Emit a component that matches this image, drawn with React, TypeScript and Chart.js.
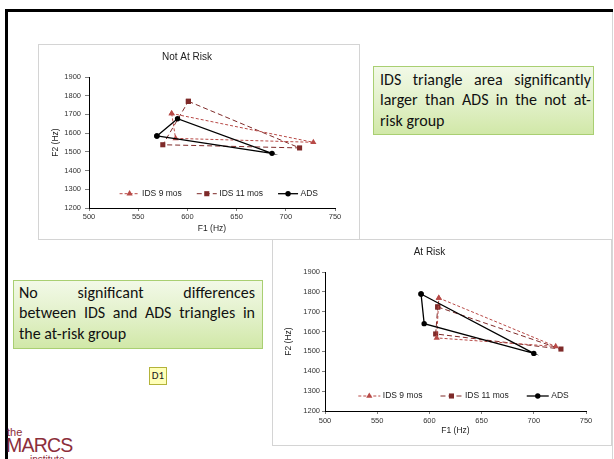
import React, { useEffect, useRef } from 'react';
import { Chart, registerables } from 'chart.js';

Chart.register(...registerables);

// ---------- data ----------
const seriesLabels = ['IDS 9 mos', 'IDS 11 mos', 'ADS'];
const xMin = 500;
const xMax = 750;
const xStep = 50;
const yMin = 1200;
const yMax = 1900;
const yStep = 100;

// Not At Risk (closed triangles: first vertex repeated)
const notAtRiskIds9F1 = [584, 588, 728, 584];
const notAtRiskIds9F2 = [1705, 1572, 1551, 1705];
const notAtRiskIds11F1 = [601, 714, 575, 601];
const notAtRiskIds11F2 = [1770, 1521, 1538, 1770];
const notAtRiskAdsF1 = [569, 590, 686, 569];
const notAtRiskAdsF2 = [1585, 1677, 1492, 1585];

// At Risk
const atRiskIds9F1 = [609, 721, 607, 609];
const atRiskIds9F2 = [1769, 1525, 1568, 1769];
const atRiskIds11F1 = [608, 726, 606, 608];
const atRiskIds11F2 = [1724, 1512, 1588, 1724];
const atRiskAdsF1 = [592, 700, 595, 592];
const atRiskAdsF2 = [1789, 1490, 1640, 1789];

const box1Lines = ['IDS triangle area significantly', 'larger than ADS in the not at-', 'risk group'];
const box2Lines = ['No significant differences', 'between IDS and ADS triangles in', 'the at-risk group'];

// ---------- styling ----------
const FONT = '"Liberation Sans", Arial, sans-serif';
const C9 = '#b84a47';
const C11 = '#7e2a29';
const CADS = '#000000';

function pts(xs: number[], ys: number[]) {
  return xs.map((x, i) => ({ x, y: ys[i] }));
}

function drawMarker(ctx: CanvasRenderingContext2D, style: string, x: number, y: number, r: number, color: string) {
  ctx.fillStyle = color;
  ctx.beginPath();
  if (style === 'triangle') {
    for (let k = 0; k < 3; k++) {
      const a = -Math.PI / 2 + (k * 2 * Math.PI) / 3;
      const px = x + r * Math.cos(a);
      const py = y + r * Math.sin(a);
      if (k === 0) ctx.moveTo(px, py);
      else ctx.lineTo(px, py);
    }
    ctx.closePath();
  } else if (style === 'rect') {
    const s = r * Math.SQRT1_2;
    ctx.rect(x - s, y - s, 2 * s, 2 * s);
  } else {
    ctx.arc(x, y, r, 0, Math.PI * 2);
  }
  ctx.fill();
}

const innerLegend = {
  id: 'innerLegend',
  afterDatasetsDraw(chart: any, _args: any, opts: any) {
    const { ctx, chartArea } = chart;
    const y = chartArea.bottom - opts.fromBottom;
    let x = chartArea.left + opts.start;
    ctx.save();
    ctx.font = `${opts.fontSize}px ${FONT}`;
    ctx.textBaseline = 'middle';
    chart.data.datasets.forEach((ds: any) => {
      const L = opts.lineLen;
      ctx.strokeStyle = ds.borderColor;
      ctx.lineWidth = ds.borderWidth;
      ctx.setLineDash(ds.borderDash || []);
      ctx.beginPath();
      ctx.moveTo(x, y);
      ctx.lineTo(x + L, y);
      ctx.stroke();
      ctx.setLineDash([]);
      drawMarker(ctx, ds.pointStyle, x + L / 2, y, ds.pointRadius, ds.pointBackgroundColor);
      ctx.fillStyle = '#222';
      ctx.fillText(ds.label, x + L + opts.textGap, y);
      x += L + opts.textGap + ctx.measureText(ds.label).width + opts.itemGap;
    });
    ctx.restore();
  },
};

type PanelProps = {
  title: string;
  f1: number[][];
  f2: number[][];
  left: number;
  top: number;
  width: number;
  height: number;
  yAxisWidth: number;
  xAxisHeight: number;
  padRight: number;
  yTitlePad: number;
  xTitlePad: number;
  yTickPad: number;
  yTickLen: number;
  xTickPad: number;
  legendStart: number;
  legendFromBottom: number;
  legendLineLen: number;
  legendItemGap: number;
};

function ScatterPanel(p: PanelProps) {
  const ref = useRef<HTMLCanvasElement>(null);
  const cw = p.width - 2;
  const ch = p.height - 2;
  useEffect(() => {
    const styles = [
      { color: C9, dash: [3, 2], style: 'triangle', radius: 3.6, width: 1, order: 1 },
      { color: C11, dash: [5, 3], style: 'rect', radius: 3.6, width: 1, order: 2 },
      { color: CADS, dash: [], style: 'circle', radius: 2.7, width: 1.3, order: 0 },
    ];
    const datasets = seriesLabels.map((label, i) => ({
      label,
      data: pts(p.f1[i], p.f2[i]),
      showLine: true,
      borderColor: styles[i].color,
      backgroundColor: styles[i].color,
      borderWidth: styles[i].width,
      borderDash: styles[i].dash,
      pointStyle: styles[i].style,
      pointRadius: styles[i].radius,
      pointBackgroundColor: styles[i].color,
      pointBorderColor: styles[i].color,
      pointBorderWidth: 0,
      order: styles[i].order,
      tension: 0,
    }));
    const chart = new Chart(ref.current as HTMLCanvasElement, {
      type: 'scatter',
      data: { datasets } as any,
      options: {
        animation: false,
        responsive: false,
        maintainAspectRatio: false,
        layout: { padding: { left: 0, right: p.padRight, top: 0, bottom: 0 } },
        scales: {
          x: {
            type: 'linear',
            min: xMin,
            max: xMax,
            ticks: {
              stepSize: xStep,
              font: { family: FONT, size: 7.5 },
              color: '#333',
              padding: p.xTickPad,
              maxRotation: 0,
              callback: (v: any) => String(v),
            },
            grid: { drawOnChartArea: false, drawTicks: true, tickLength: 3, color: '#7f7f7f' },
            border: { color: '#000', width: 1 },
            title: { display: true, text: 'F1 (Hz)', font: { family: FONT, size: 8.5 }, color: '#222', padding: { top: 0, bottom: p.xTitlePad } },
            afterFit: (axis: any) => {
              axis.height = p.xAxisHeight;
            },
          },
          y: {
            type: 'linear',
            min: yMin,
            max: yMax,
            ticks: {
              stepSize: yStep,
              font: { family: FONT, size: 7.5 },
              color: '#333',
              padding: p.yTickPad,
              callback: (v: any) => String(v),
            },
            grid: { drawOnChartArea: false, drawTicks: true, tickLength: p.yTickLen, color: '#7f7f7f' },
            border: { color: '#000', width: 1 },
            title: { display: true, text: 'F2 (Hz)', font: { family: FONT, size: 8.5 }, color: '#222', padding: { top: p.yTitlePad, bottom: 0 } },
            afterFit: (axis: any) => {
              axis.width = p.yAxisWidth;
            },
          },
        } as any,
        plugins: {
          legend: { display: false },
          tooltip: { enabled: false },
          title: {
            display: true,
            text: p.title,
            color: '#222',
            font: { family: FONT, size: 10, weight: 'normal' },
            padding: { top: 6, bottom: 14 },
          },
          innerLegend: {
            start: p.legendStart,
            fromBottom: p.legendFromBottom,
            lineLen: p.legendLineLen,
            textGap: 2.5,
            itemGap: p.legendItemGap,
            fontSize: 8.5,
          },
        } as any,
      },
      plugins: [innerLegend as any],
    });
    return () => chart.destroy();
  }, []);
  return (
    <div
      style={{
        position: 'absolute',
        left: p.left,
        top: p.top,
        width: p.width,
        height: p.height,
        border: '1px solid #d4d4d4',
        boxSizing: 'border-box',
        background: '#fff',
      }}
    >
      <canvas ref={ref} width={cw} height={ch} style={{ display: 'block', width: cw, height: ch }} />
    </div>
  );
}

function TextBox(props: { lines: string[]; left: number; top: number; width: number; height: number; pad: string }) {
  return (
    <div
      style={{
        position: 'absolute',
        left: props.left,
        top: props.top,
        width: props.width,
        height: props.height,
        boxSizing: 'border-box',
        border: '1px solid #a9cf72',
        background: 'linear-gradient(to bottom, #f2f9e7 0%, #e3f1cb 50%, #d1e8a8 100%)',
        padding: props.pad,
        fontFamily: 'Carlito, Lato, sans-serif',
        fontSize: 16,
        lineHeight: '20.3px',
        color: '#111',
      }}
    >
      {props.lines.map((t, i) => (
        <div
          key={i}
          style={{
            textAlign: i < props.lines.length - 1 ? 'justify' : 'left',
            textAlignLast: i < props.lines.length - 1 ? 'justify' : 'left',
            whiteSpace: 'nowrap',
          } as any}
        >
          {t}
        </div>
      ))}
    </div>
  );
}

export default function App() {
  return (
    <div
      style={{
        position: 'fixed',
        left: 0,
        top: 0,
        width: 614,
        height: 459,
        overflow: 'hidden',
        background: '#fff',
      }}
    >
      {/* slide frame */}
      <div style={{ position: 'absolute', left: 5, top: 9, width: 608, height: 3, background: '#000' }} />
      <div style={{ position: 'absolute', left: 5, top: 9, width: 3, height: 450, background: '#000' }} />
      <div style={{ position: 'absolute', left: 612, top: 12, width: 1, height: 447, background: '#d6d6d6' }} />

      <ScatterPanel
        title="Not At Risk"
        f1={[notAtRiskIds9F1, notAtRiskIds11F1, notAtRiskAdsF1]}
        f2={[notAtRiskIds9F2, notAtRiskIds11F2, notAtRiskAdsF2]}
        left={38}
        top={44}
        width={322}
        height={196}
        yAxisWidth={50}
        xAxisHeight={31}
        padRight={24}
        yTitlePad={12}
        xTitlePad={5}
        yTickPad={4}
        yTickLen={4}
        xTickPad={1}
        legendStart={30.6}
        legendFromBottom={14.3}
        legendLineLen={20}
        legendItemGap={15}
      />

      <ScatterPanel
        title="At Risk"
        f1={[atRiskIds9F1, atRiskIds11F1, atRiskAdsF1]}
        f2={[atRiskIds9F2, atRiskIds11F2, atRiskAdsF2]}
        left={272}
        top={239}
        width={340}
        height={207}
        yAxisWidth={52}
        xAxisHeight={34}
        padRight={25}
        yTitlePad={11}
        xTitlePad={9}
        yTickPad={2}
        yTickLen={3}
        xTickPad={2}
        legendStart={33.3}
        legendFromBottom={15}
        legendLineLen={22}
        legendItemGap={18}
      />

      <TextBox lines={box1Lines} left={373} top={66} width={221} height={69} pad="3px 2px 0 6px" />
      <TextBox lines={box2Lines} left={13} top={280} width={250} height={69} pad="2px 7px 0 5px" />

      {/* D1 marker */}
      <div
        style={{
          position: 'absolute',
          left: 149,
          top: 367,
          width: 18,
          height: 18,
          boxSizing: 'border-box',
          border: '1px solid #b3b33a',
          background: '#ffffb8',
          fontFamily: 'Carlito, Lato, sans-serif',
          fontSize: 11,
          lineHeight: '16px',
          textAlign: 'center',
          color: '#222',
        }}
      >
        D1
      </div>

      {/* logo */}
      <div style={{ position: 'absolute', left: 7, top: 427, fontFamily: FONT, fontSize: 11, lineHeight: '11px', color: '#8c2e3a' }}>the</div>
      <div
        style={{
          position: 'absolute',
          left: 6,
          top: 435,
          fontFamily: FONT,
          fontSize: 19.5,
          lineHeight: '20px',
          letterSpacing: -0.8,
          color: '#8c2e3a',
        }}
      >
        MARCS
      </div>
      <div style={{ position: 'absolute', left: 30, top: 454.5, fontFamily: FONT, fontSize: 10, lineHeight: '10px', color: '#8c2e3a' }}>
        institute
      </div>
    </div>
  );
}
